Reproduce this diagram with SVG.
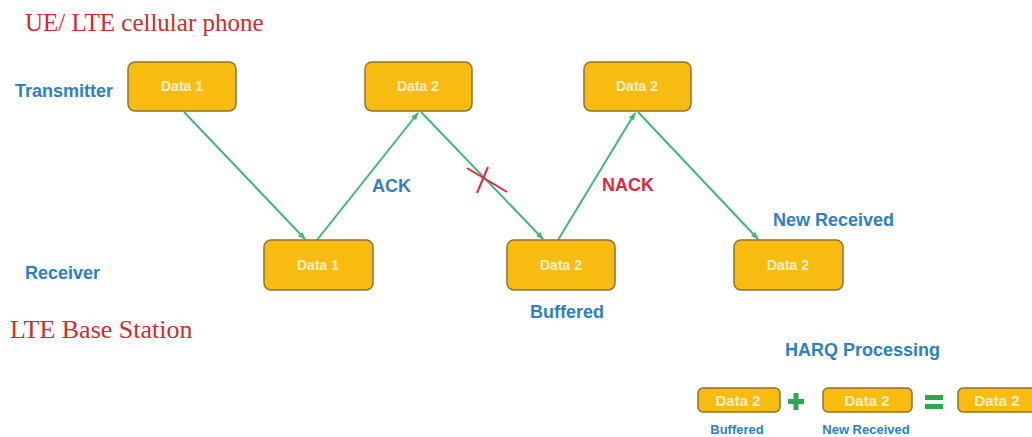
<svg xmlns="http://www.w3.org/2000/svg" width="1032" height="437" viewBox="0 0 1032 437">
<style>
.box{fill:#F8BC10;stroke:#8C7336;stroke-width:1.5}
.bt{font-family:"Liberation Sans",Arial,sans-serif;font-size:14px;font-weight:bold;fill:#FCEFC8;text-anchor:middle}
.sbt{font-family:"Liberation Sans",Arial,sans-serif;font-size:15px;font-weight:bold;fill:#FCEFC8;text-anchor:middle}
.lbl{font-family:"Liberation Sans",Arial,sans-serif;font-size:18px;font-weight:bold;fill:#2C7FC8}
.red{font-family:"Liberation Sans",Arial,sans-serif;font-size:18px;font-weight:bold;fill:#E0283A}
.serif{font-family:"Liberation Serif","Times New Roman",serif;font-size:25px;fill:#D32B2B}
.small{font-family:"Liberation Sans",Arial,sans-serif;font-size:13px;font-weight:bold;fill:#2C7FC8;text-anchor:middle}
.conn{stroke:#3DBA75;stroke-width:2;fill:none;marker-end:url(#ah)}
.op{fill:#2EA84E}
</style>
<defs>
<marker id="ah" markerWidth="8" markerHeight="8" refX="7" refY="4" orient="auto" markerUnits="userSpaceOnUse">
<path d="M0,1 L8,4 L0,7 Z" fill="#3DBA75"/>
</marker>
</defs>
<rect width="1032" height="437" fill="#ffffff"/>
<text class="serif" x="25" y="31">UE/ LTE cellular phone</text>
<text class="serif" x="10" y="338" style="font-size:26px">LTE Base Station</text>
<text class="lbl" x="15" y="97">Transmitter</text>
<text class="lbl" x="25" y="279">Receiver</text>

<g id="connectors">
<line class="conn" x1="184" y1="112" x2="305" y2="239"/>
<line class="conn" x1="317" y1="240" x2="418" y2="113"/>
<line class="conn" x1="421" y1="112" x2="543" y2="239"/>
<line class="conn" x1="558" y1="240" x2="635" y2="113"/>
<line class="conn" x1="638" y1="112" x2="758" y2="239"/>
</g>
<g id="cross" stroke="#E0283A" stroke-width="2">
<line x1="467" y1="168" x2="507" y2="192"/>
<line x1="488" y1="167" x2="477" y2="193"/>
</g>

<g id="tx1"><rect class="box" x="128" y="62" width="108" height="49" rx="7"/><text class="bt" x="182" y="91">Data 1</text></g>
<g id="tx2"><rect class="box" x="365" y="62" width="107" height="49" rx="7"/><text class="bt" x="418" y="91">Data 2</text></g>
<g id="tx3"><rect class="box" x="584" y="62" width="107" height="49" rx="7"/><text class="bt" x="637" y="91">Data 2</text></g>
<g id="rx1"><rect class="box" x="264" y="240" width="109" height="50" rx="7"/><text class="bt" x="318" y="270">Data 1</text></g>
<g id="rx2"><rect class="box" x="507" y="240" width="108" height="50" rx="7"/><text class="bt" x="561" y="270">Data 2</text></g>
<g id="rx3"><rect class="box" x="734" y="240" width="109" height="50" rx="7"/><text class="bt" x="788" y="270">Data 2</text></g>

<text class="lbl" x="372" y="192">ACK</text>
<text class="red" x="602" y="191">NACK</text>
<text class="lbl" x="773" y="226">New Received</text>
<text class="lbl" x="530" y="318">Buffered</text>
<text class="lbl" x="785" y="356">HARQ Processing</text>

<g id="h1"><rect class="box" x="698" y="388" width="82" height="24" rx="5"/><text class="sbt" x="738" y="406">Data 2</text></g>
<g id="plus" class="op"><rect x="788" y="399" width="16" height="5"/><rect x="793.5" y="393" width="5" height="17"/></g>
<g id="h2"><rect class="box" x="823" y="388" width="89" height="24" rx="5"/><text class="sbt" x="867" y="406">Data 2</text></g>
<g id="equals" class="op"><rect x="925" y="395" width="18" height="5"/><rect x="925" y="404" width="18" height="5"/></g>
<g id="h3"><rect class="box" x="958" y="388" width="80" height="24" rx="5"/><text class="sbt" x="997" y="406">Data 2</text></g>
<text class="small" x="737" y="434">Buffered</text>
<text class="small" x="866" y="434">New Received</text>
</svg>
